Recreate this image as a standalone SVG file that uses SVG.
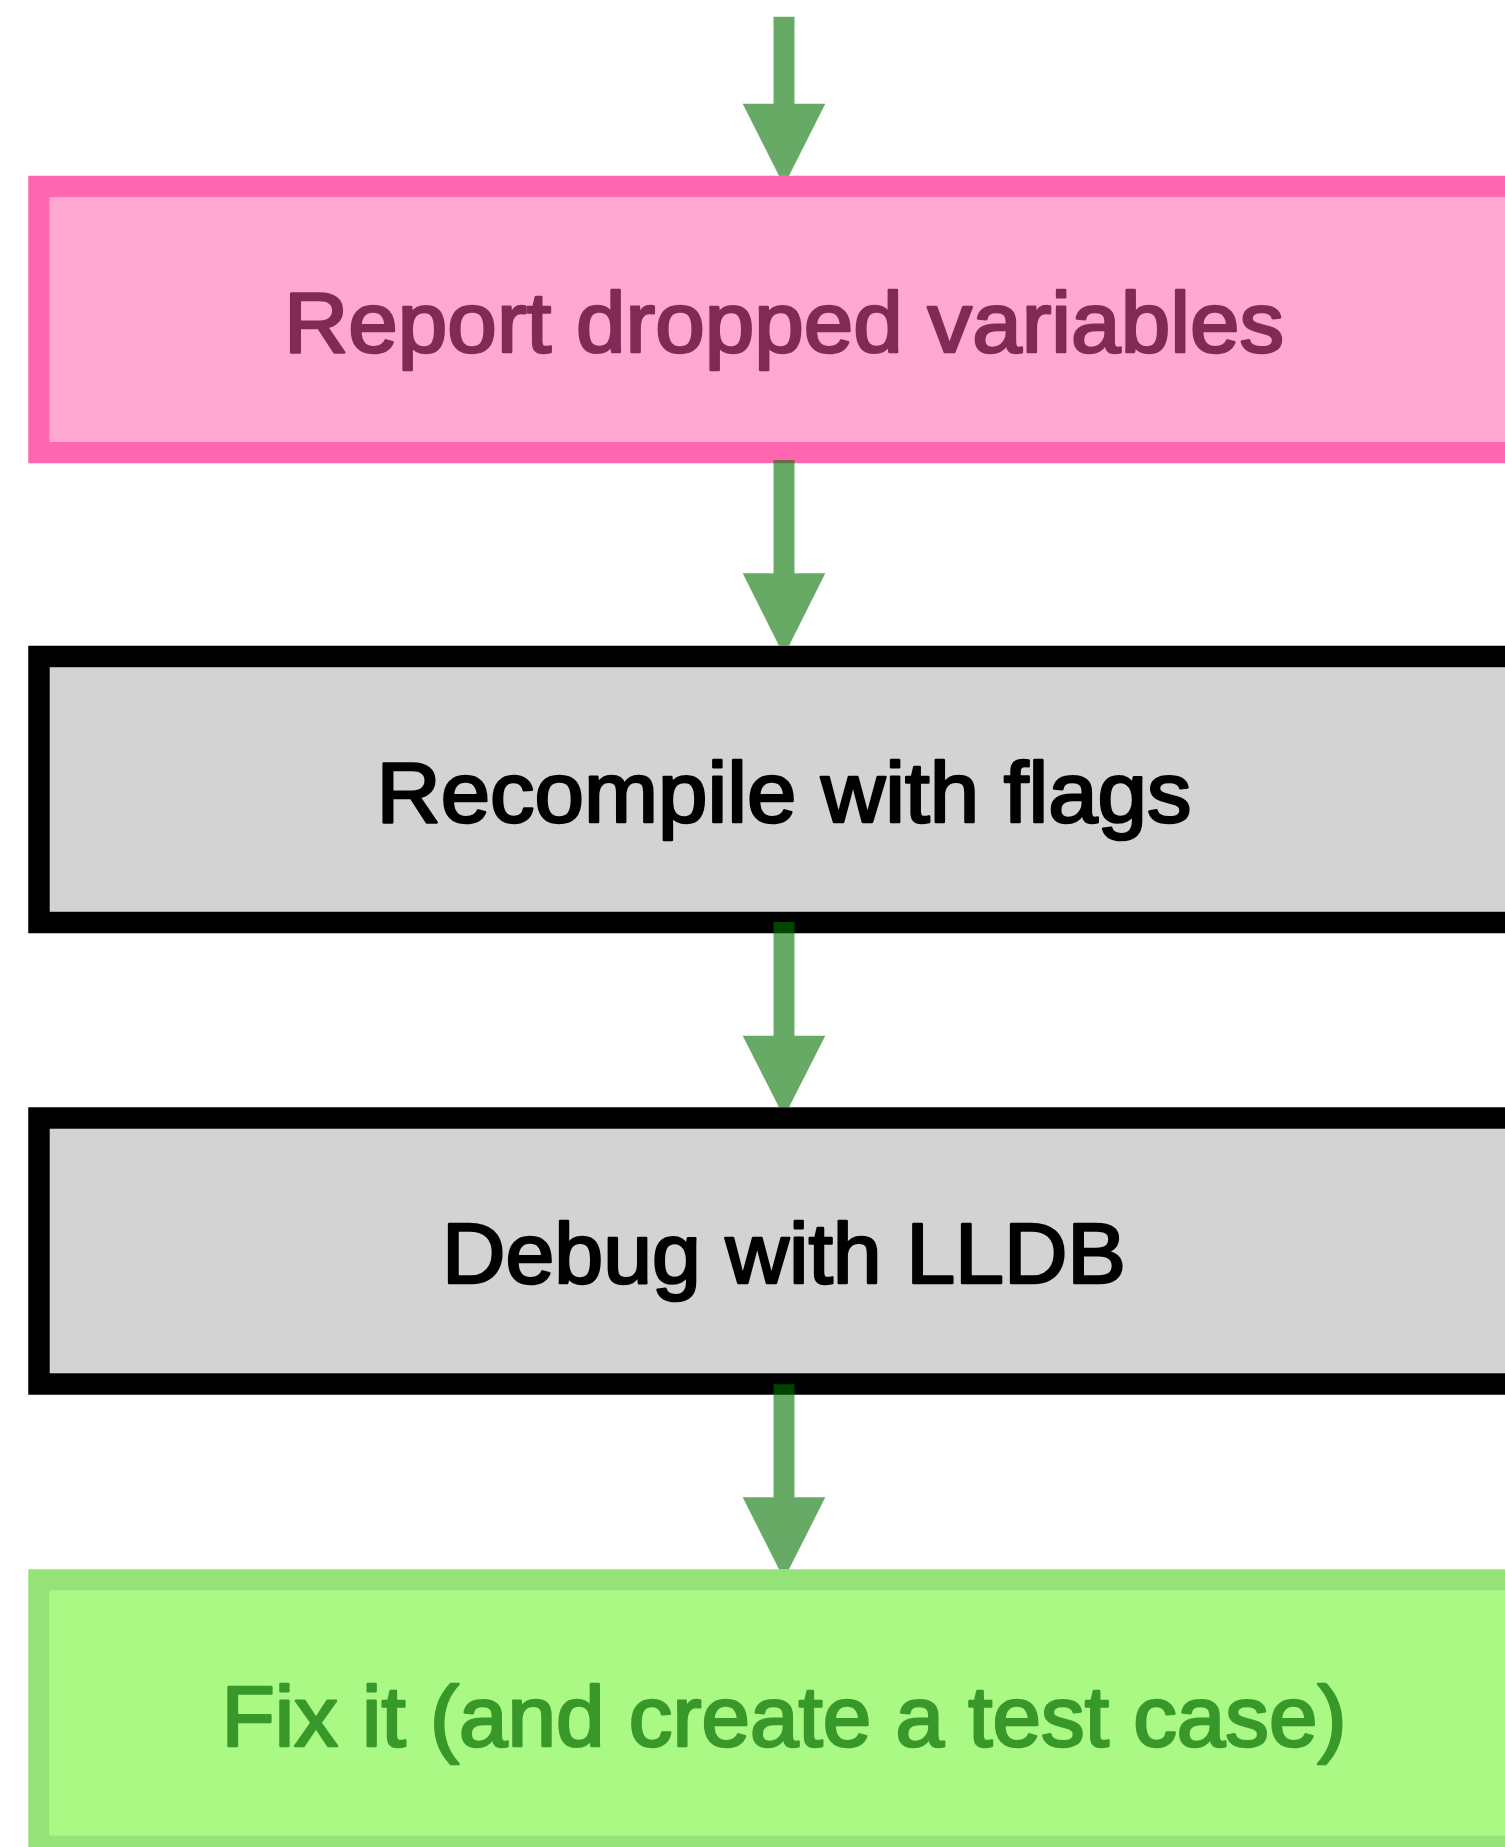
<svg xmlns="http://www.w3.org/2000/svg" width="1505" height="1847" viewBox="0 0 1505 1847">
  <style>
    .box-fill { stroke: none; }
    .box-edge { fill: none; stroke-width: 21.5; }
    .label { font-family: "Liberation Sans", Arial, Helvetica, sans-serif; font-size: 85px; text-anchor: middle; stroke-width: 2.6; stroke-linejoin: round; }
    .pink .box-fill { fill: #FFA8D2; }
    .pink .box-edge { stroke: #FF4EA2; stroke-opacity: 0.85; }
    .pink .label { fill: #802A56; stroke: #802A56; }
    .gray .box-fill { fill: #D3D3D3; }
    .gray .box-edge { stroke: #000000; }
    .gray .label { fill: #000000; stroke: #000000; }
    .green .box-fill { fill: #ABF985; }
    .green .box-edge { stroke: #8CE06E; stroke-opacity: 0.92; }
    .green .label { fill: #38982A; stroke: #38982A; }
    .arrow { fill: #007100; fill-opacity: 0.6; stroke: none; }
  </style>

  <!-- nodes -->
  <g id="node-report" class="pink">
    <rect class="box-fill" x="50" y="197.25" width="1468" height="244.5"/>
    <rect class="box-edge" x="39" y="186.5" width="1490" height="266"/>
    <text class="label" x="784" y="351.7" textLength="1000" lengthAdjust="spacingAndGlyphs">Report dropped variables</text>
  </g>

  <g id="node-recompile" class="gray">
    <rect class="box-fill" x="50" y="667.25" width="1468" height="244.5"/>
    <rect class="box-edge" x="39" y="656.5" width="1490" height="266"/>
    <text class="label" x="784" y="821.7" textLength="815" lengthAdjust="spacingAndGlyphs">Recompile with flags</text>
  </g>

  <g id="node-debug" class="gray">
    <rect class="box-fill" x="50" y="1128.75" width="1468" height="244.5"/>
    <rect class="box-edge" x="39" y="1118" width="1490" height="266"/>
    <text class="label" x="784" y="1283.3" textLength="684" lengthAdjust="spacingAndGlyphs">Debug with LLDB</text>
  </g>

  <g id="node-fix" class="green">
    <rect class="box-fill" x="50" y="1590.75" width="1468" height="244.5"/>
    <rect class="box-edge" x="39" y="1580" width="1490" height="266"/>
    <text class="label" x="784" y="1746" textLength="1125" lengthAdjust="spacingAndGlyphs">Fix it (and create a test case)</text>
  </g>

  <!-- connectors: shaft plus arrowhead, head stops at the target box edge -->
  <g id="connectors">
    <polygon id="edge-in-report" class="arrow"
      points="773.5,16.7 794.5,16.7 794.5,103.7 825.3,103.7 789,175.7 779,175.7 742.7,103.7 773.5,103.7"/>
    <polygon id="edge-report-recompile" class="arrow"
      points="773.5,460 794.5,460 794.5,573.3 825.3,573.3 789,645.7 779,645.7 742.7,573.3 773.5,573.3"/>
    <polygon id="edge-recompile-debug" class="arrow"
      points="773.5,922 794.5,922 794.5,1035.7 825.3,1035.7 789,1107.3 779,1107.3 742.7,1035.7 773.5,1035.7"/>
    <polygon id="edge-debug-fix" class="arrow"
      points="773.5,1384.3 794.5,1384.3 794.5,1497.3 825.3,1497.3 789,1569.3 779,1569.3 742.7,1497.3 773.5,1497.3"/>
  </g>
</svg>
